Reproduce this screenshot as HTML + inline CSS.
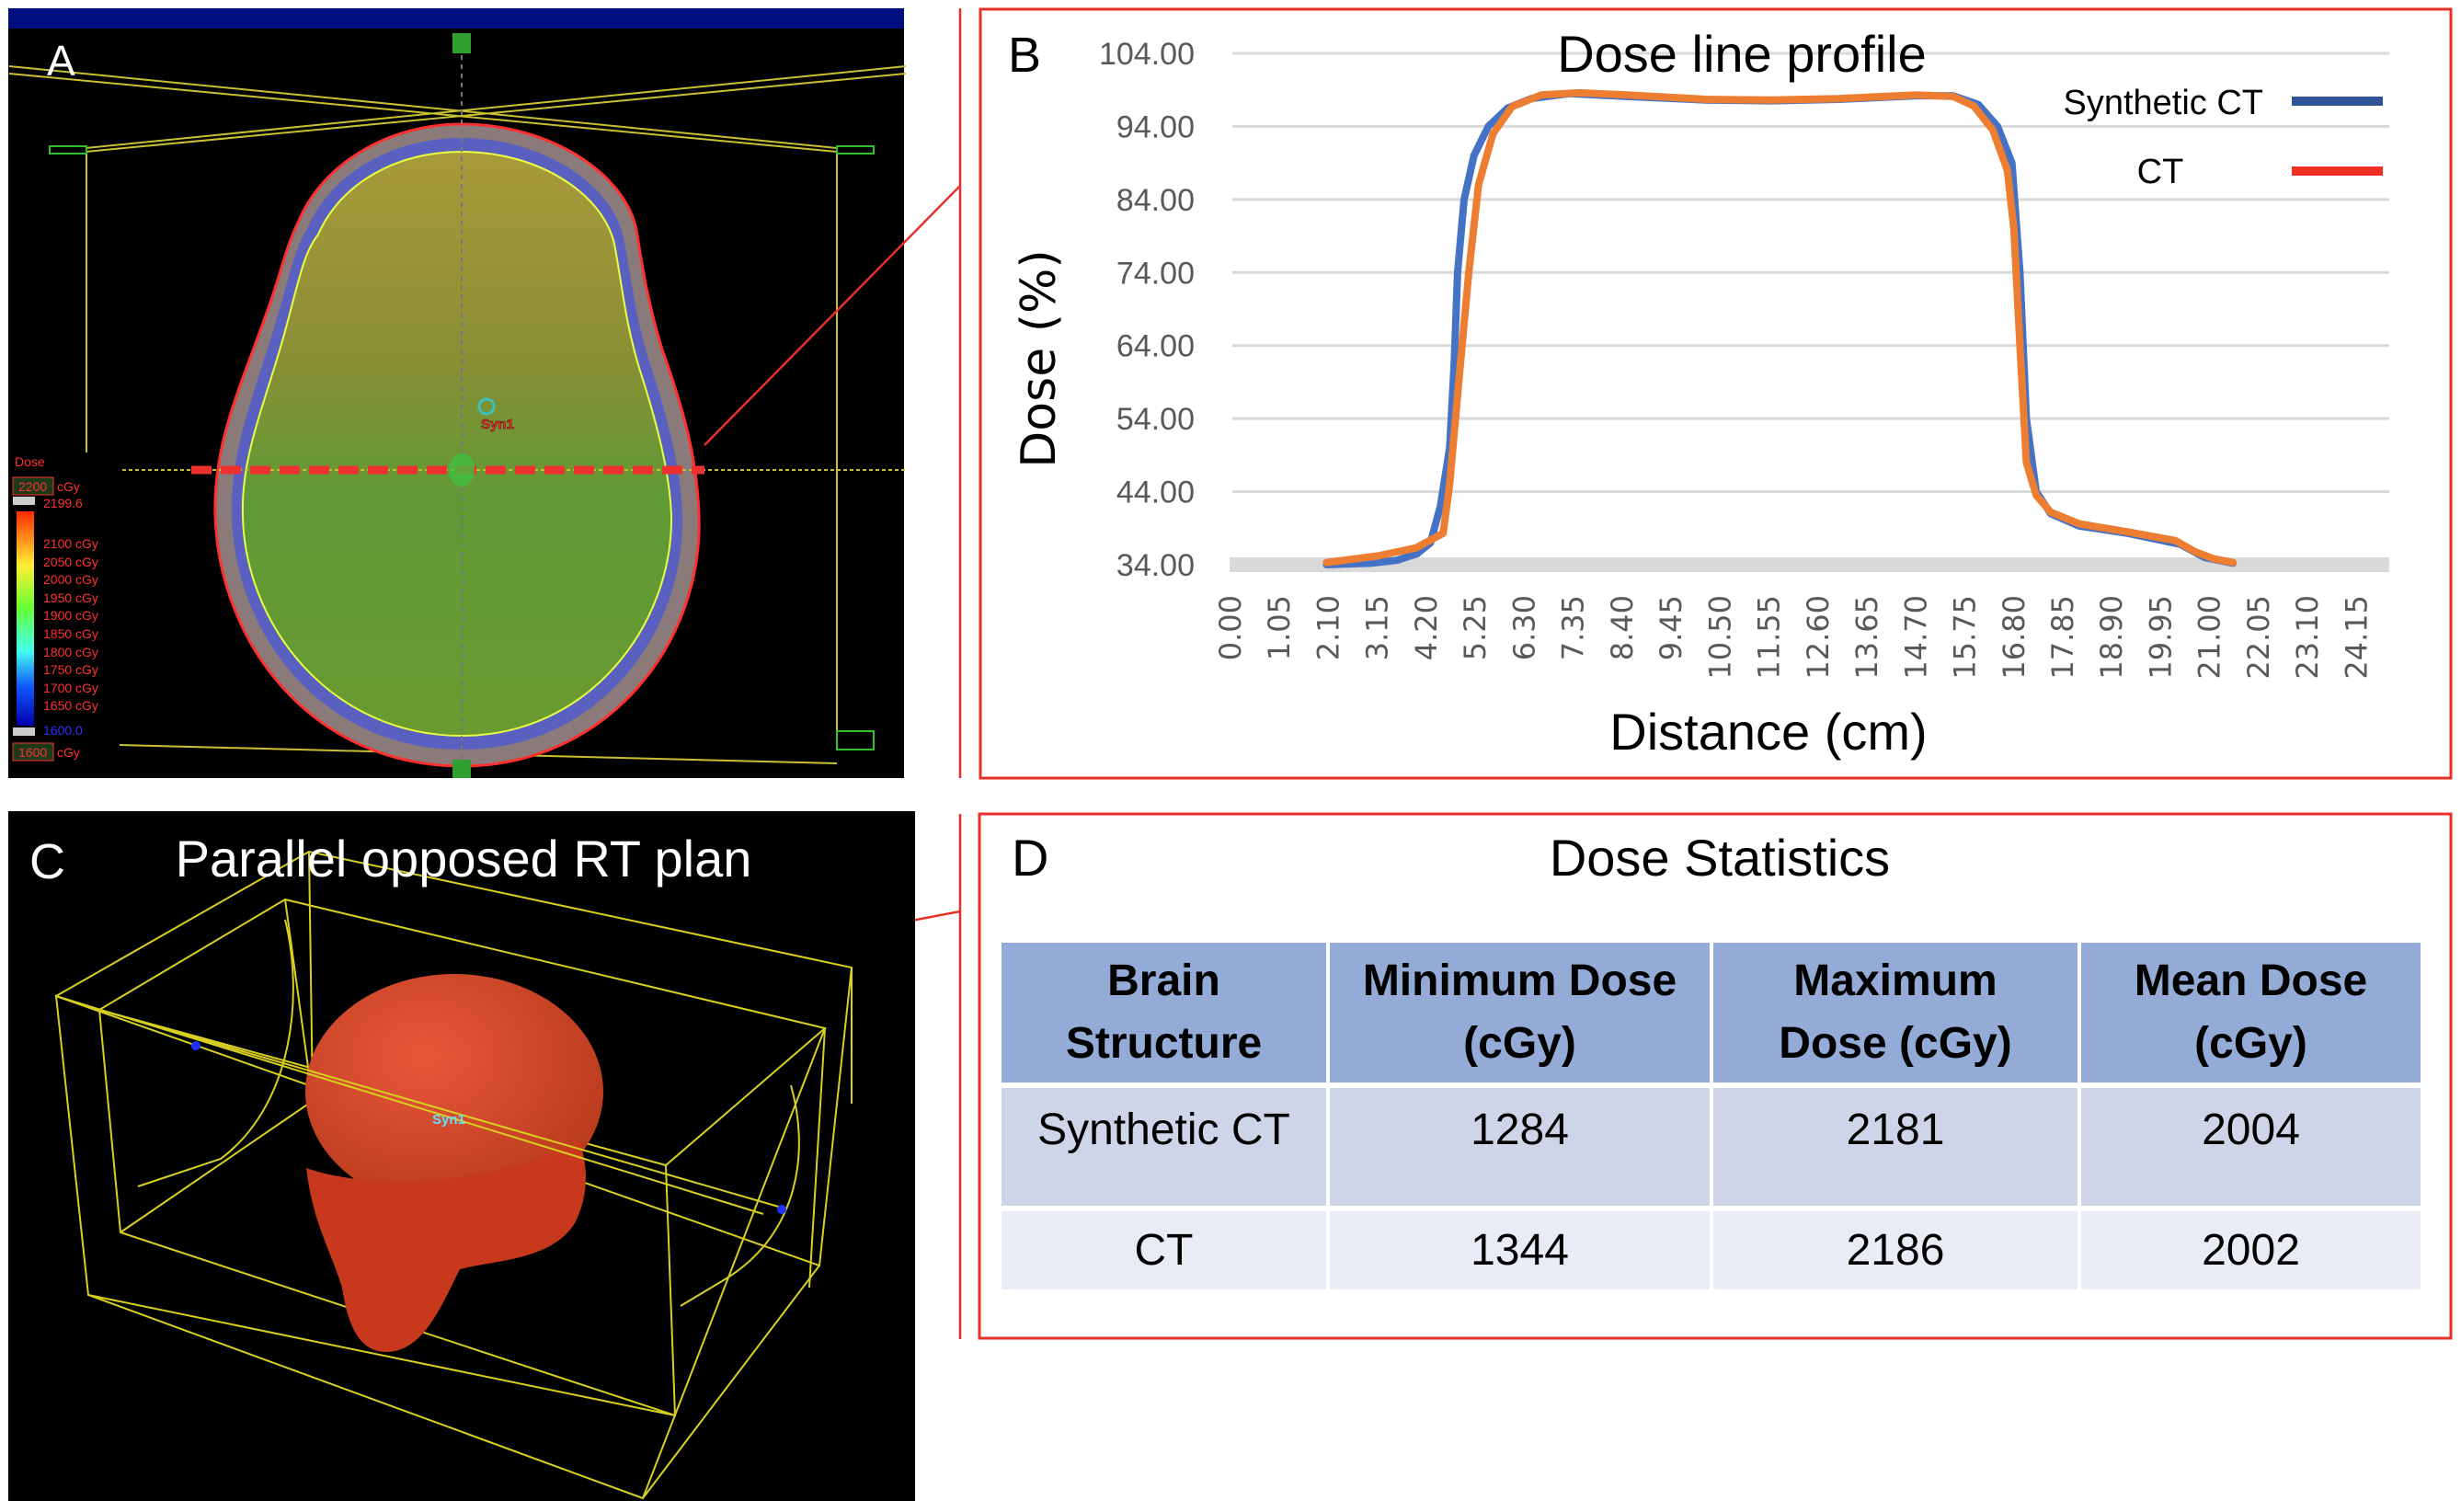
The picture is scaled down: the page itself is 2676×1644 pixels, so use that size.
<!DOCTYPE html>
<html><head><meta charset="utf-8">
<style>
html,body{margin:0;padding:0;background:#fff;}
body{width:2676px;height:1644px;position:relative;overflow:hidden;font-family:"Liberation Sans",sans-serif;}
.abs{position:absolute;}
.narrow{font-family:"Liberation Sans Narrow","Liberation Sans",sans-serif;}
table{border-collapse:separate;border-spacing:4px 6px;}
td{padding:0;}
</style></head>
<body>
<svg class="abs" style="left:0;top:0" width="2676" height="1644">
  <g>
    <defs>
      <linearGradient id="headg" x1="0" y1="0" x2="0" y2="1">
        <stop offset="0" stop-color="#a89a3a"/><stop offset="0.35" stop-color="#8a8f35"/>
        <stop offset="0.6" stop-color="#5f9a35"/><stop offset="1" stop-color="#6a9a30"/>
      </linearGradient>
      <linearGradient id="cbar" x1="0" y1="0" x2="0" y2="1">
        <stop offset="0" stop-color="#ff2a00"/><stop offset="0.25" stop-color="#ffee33"/>
        <stop offset="0.45" stop-color="#66ff33"/><stop offset="0.65" stop-color="#44ffee"/>
        <stop offset="0.82" stop-color="#1155ff"/><stop offset="1" stop-color="#0000aa"/>
      </linearGradient>
      <radialGradient id="skullg" cx="0.4" cy="0.35" r="0.7">
        <stop offset="0" stop-color="#e8573a"/><stop offset="1" stop-color="#b83a1c"/>
      </radialGradient>
    </defs>
    <rect x="9" y="9" width="974" height="837" fill="#000"/>
    <rect x="9" y="9" width="974" height="22" fill="#000f80"/>
    <g stroke="#c8c030" stroke-width="2" fill="none">
      <line x1="10" y1="72" x2="910" y2="161"/>
      <line x1="10" y1="80" x2="910" y2="165"/>
      <line x1="93" y1="161" x2="985" y2="72"/>
      <line x1="93" y1="165" x2="985" y2="80"/>
      <line x1="94" y1="161" x2="94" y2="492"/>
      <line x1="910" y1="161" x2="910" y2="810"/>
      <line x1="130" y1="810" x2="910" y2="830"/>
    </g>
    <g stroke="#2fbf2f" stroke-width="2" fill="none">
      <rect x="54" y="159" width="40" height="8"/><rect x="910" y="159" width="40" height="8"/>
      <rect x="910" y="795" width="40" height="20"/>
    </g>
    <path d="M502,135 C600,135 680,190 692,250 C700,300 705,330 720,380 C745,450 758,500 760,560 C765,700 660,833 502,833 C340,833 238,700 234,560 C232,480 262,420 290,340 C305,300 310,270 325,240 C350,180 420,135 502,135 Z" fill="#8a7a7a" stroke="#ff3030" stroke-width="3"/>
    <path d="M502,150 C590,150 665,200 678,258 C688,310 690,340 705,390 C728,460 740,510 742,560 C745,690 650,815 502,815 C350,815 255,690 252,560 C250,490 276,430 300,350 C315,300 320,270 336,245 C360,190 425,150 502,150 Z" fill="#5a60c0"/>
    <path d="M502,165 C585,165 655,210 668,265 C678,320 680,350 695,400 C716,465 728,515 730,560 C732,680 640,800 502,800 C360,800 266,680 264,560 C262,495 288,440 310,360 C325,305 330,275 346,255 C370,200 430,165 502,165 Z" fill="url(#headg)" stroke="#e8ff40" stroke-width="2"/>
    <line x1="502" y1="40" x2="502" y2="846" stroke="#777" stroke-width="2" stroke-dasharray="5,5"/>
    <line x1="133" y1="511" x2="985" y2="511" stroke="#c8c030" stroke-width="2" stroke-dasharray="4,3"/>
    <rect x="492" y="36" width="20" height="22" fill="#2f9f2f"/><rect x="492" y="826" width="20" height="20" fill="#2f9f2f"/>
    <line x1="208" y1="511" x2="766" y2="511" stroke="#ee3030" stroke-width="9" stroke-dasharray="22,10"/>
    <ellipse cx="502" cy="511" rx="14" ry="18" fill="#40c040" opacity="0.8"/>
    <text x="523" y="466" font-size="15" font-weight="bold" fill="#ff3030" stroke="#300" stroke-width="0.5">Syn1</text>
    <circle cx="529" cy="442" r="8" fill="none" stroke="#40c0c0" stroke-width="3"/>
    <text x="51" y="82" font-size="46" fill="#fff">A</text>
    <g font-size="14" fill="#ff3030">
      <text x="16" y="507">Dose</text>
      <rect x="14" y="519" width="44" height="19" fill="#1a3a1a" stroke="#ff3030"/>
      <text x="20" y="534">2200</text><text x="62" y="534">cGy</text>
      <rect x="14" y="540" width="24" height="9" fill="#ccc"/>
      <text x="47" y="552">2199.6</text>
      <rect x="18" y="556" width="19" height="233" fill="url(#cbar)"/>
      <text x="47" y="596">2100 cGy</text><text x="47" y="616">2050 cGy</text><text x="47" y="635">2000 cGy</text>
      <text x="47" y="655">1950 cGy</text><text x="47" y="674">1900 cGy</text><text x="47" y="694">1850 cGy</text>
      <text x="47" y="714">1800 cGy</text><text x="47" y="733">1750 cGy</text><text x="47" y="753">1700 cGy</text>
      <text x="47" y="772">1650 cGy</text>
      <rect x="14" y="791" width="24" height="9" fill="#ccc"/>
      <text x="47" y="799" fill="#3030ff">1600.0</text>
      <rect x="14" y="808" width="44" height="19" fill="#1a3a1a" stroke="#ff3030"/>
      <text x="20" y="823">1600</text><text x="62" y="823">cGy</text>
    </g>
  </g>
  <g stroke="#e8302a" stroke-width="2.5">
    <line x1="1044" y1="9" x2="1044" y2="846"/>
    <line x1="1044" y1="885" x2="1044" y2="1456"/>
    <line x1="766" y1="484" x2="1044" y2="202"/>
    <line x1="636" y1="1068" x2="1044" y2="991"/>
  </g>
  <rect x="1066" y="10" width="1599" height="836" fill="none" stroke="#e8302a" stroke-width="3"/>
  <rect x="1065" y="885" width="1600" height="570" fill="none" stroke="#e8302a" stroke-width="3"/>
  <g>
    <rect x="9" y="882" width="986" height="750" fill="#000"/>
    <g stroke="#d8d020" stroke-width="2" fill="none">
      <polyline points="61,1083 336,926 926,1052 891,1376 61,1083 96,1408 699,1629 891,1376"/>
      <line x1="926" y1="1052" x2="926" y2="1200"/>
      <line x1="96" y1="1408" x2="734" y2="1539"/>
      <polyline points="108,1098 310,978 897,1118 724,1267 108,1098 131,1340 734,1539 724,1267"/>
      <line x1="336" y1="926" x2="340" y2="1197"/>
      <line x1="310" y1="978" x2="340" y2="1197"/>
      <line x1="897" y1="1118" x2="880" y2="1400"/>
      <line x1="131" y1="1340" x2="340" y2="1197"/>
      <line x1="699" y1="1629" x2="897" y2="1118"/>
      <path d="M310,1000 C330,1080 320,1200 240,1260 L150,1290"/>
      <path d="M860,1180 C880,1250 870,1340 790,1390 L740,1420"/>
    </g>
    <ellipse cx="494" cy="1187" rx="162" ry="128" fill="url(#skullg)"/>
    <path d="M333,1270 C340,1330 360,1360 372,1400 C378,1440 390,1470 420,1470 C460,1470 480,1420 500,1380 C540,1370 600,1370 625,1330 C640,1300 640,1270 630,1240 C560,1280 420,1300 333,1270 Z" fill="#c8381c"/>
    <line x1="61" y1="1083" x2="830" y2="1320" stroke="#d8d020" stroke-width="2"/>
    <line x1="108" y1="1098" x2="850" y2="1313" stroke="#d8d020" stroke-width="2"/>
    <circle cx="213" cy="1137" r="5" fill="#2030ff"/><circle cx="850" cy="1315" r="5" fill="#2030ff"/>
    <text x="470" y="1222" font-size="15" font-weight="bold" fill="#60e0ff">Syn1</text>
    <text x="32" y="955" font-size="54" fill="#fff" class="narrow">C</text>
    <text x="504" y="953" font-size="56" fill="#fff" text-anchor="middle" class="narrow">Parallel opposed RT plan</text>
  </g>
  <g id="chart"></g>
</svg>

<div class="abs narrow" style="left:1100px;top:900px;font-size:56px;">D</div>
<div class="abs narrow" style="left:1570px;top:900px;width:600px;text-align:center;font-size:56px;">Dose Statistics</div>
<table class="abs narrow" style="left:1085px;top:1019px;font-size:48px;text-align:center;">
  <tr style="font-weight:bold;height:152px;line-height:68px;">
    <td style="width:353px;background:#94abd8">Brain<br>Structure</td>
    <td style="width:413px;background:#94abd8">Minimum Dose<br>(cGy)</td>
    <td style="width:396px;background:#94abd8">Maximum<br>Dose (cGy)</td>
    <td style="width:369px;background:#94abd8">Mean Dose<br>(cGy)</td>
  </tr>
  <tr style="height:128px;vertical-align:top;">
    <td style="background:#cfd5e9;padding-top:18px">Synthetic CT</td><td style="background:#cfd5e9;padding-top:18px">1284</td><td style="background:#cfd5e9;padding-top:18px">2181</td><td style="background:#cfd5e9;padding-top:18px">2004</td>
  </tr>
  <tr style="height:85px;">
    <td style="background:#e9ebf5">CT</td><td style="background:#e9ebf5">1344</td><td style="background:#e9ebf5">2186</td><td style="background:#e9ebf5">2002</td>
  </tr>
</table>

<script>
const yTicks = [34, 44, 54, 64, 74, 84, 94, 104];
const xTickLabels = ["0.00","1.05","2.10","3.15","4.20","5.25","6.30","7.35","8.40","9.45","10.50","11.55","12.60","13.65","14.70","15.75","16.80","17.85","18.90","19.95","21.00","22.05","23.10","24.15"];
const synDist = [2.06,3.0,3.57,4.0,4.29,4.5,4.7,4.8,4.87,5.01,5.22,5.53,5.94,6.45,7.28,8.5,10.2,11.6,13.05,14.7,15.5,16.04,16.45,16.76,16.93,17.07,17.28,17.59,18.2,19.24,20.37,20.89,21.5];
const synDose = [34,34.2,34.6,35.5,37,42,50,62,74,84,90,94,96.5,97.8,98.5,98.1,97.6,97.5,97.7,98.2,98.2,97,94,89,74,54,44,41,39.3,38.3,36.8,35,34.2];
const ctDist = [2.06,3.15,3.98,4.56,4.7,4.91,5.11,5.32,5.63,6.04,6.66,7.48,8.5,10.2,11.6,13.05,14.7,15.5,15.94,16.35,16.66,16.8,16.93,17.07,17.28,17.59,18.2,19.24,20.27,20.68,21.09,21.5];
const ctDose = [34.3,35.2,36.3,38.3,45,60,74,86,93,96.7,98.3,98.6,98.3,97.7,97.6,97.8,98.3,98.1,96.8,93.5,88,80,64,48,43.5,41.2,39.6,38.5,37.3,35.8,34.8,34.3];

const NS = "http://www.w3.org/2000/svg";
const g = document.getElementById('chart');
const X0 = 1338, PXCM = 50.7, XR = 2598;
const yS = v => 614 - (v - 34) * 7.943;
const xS = d => X0 + d * PXCM;
function mk(tag, attrs, text) {
  const e = document.createElementNS(NS, tag);
  for (const k in attrs) e.setAttribute(k, attrs[k]);
  if (text !== undefined) e.textContent = text;
  g.appendChild(e);
  return e;
}
yTicks.forEach((v, i) => {
  if (i > 0) {
    const gl = mk('line', {x1: 1340, x2: XR, y1: yS(v), y2: yS(v), stroke: '#d9d9d9', 'stroke-width': 3});
    
    
  }
  const t = mk('text', {x: 1299, y: yS(v) + 12, 'text-anchor': 'end', 'font-size': 34, fill: '#595959', 'font-family': '"Liberation Sans Narrow","Liberation Sans",sans-serif'}, v.toFixed(2));
  
  
});
const band = mk('rect', {x: 1337, y: 606, width: XR - 1337, height: 16, fill: '#d9d9d9'});


xTickLabels.forEach(l => {
  const x = xS(parseFloat(l)) + 11;
  const t = mk('text', {x: x, y: 647, transform: `rotate(-90 ${x} 647)`, 'text-anchor': 'end', 'font-size': 32, fill: '#595959', 'font-family': '"DejaVu Sans",sans-serif'}, l);
  
  
});
function series(dist, dose, color, name) {
  const pts = dist.map((d, i) => xS(d).toFixed(1) + ',' + yS(dose[i]).toFixed(1)).join(' ');
  const p = mk('polyline', {points: pts, fill: 'none', stroke: color, 'stroke-width': 8, 'stroke-linejoin': 'round', 'stroke-linecap': 'round'});
  
  
}
series(synDist, synDose, '#4472c4', 'series-synthetic-ct');
series(ctDist, ctDose, '#ed7d31', 'series-ct');
const ff = '"Liberation Sans Narrow","Liberation Sans",sans-serif';
let t;
t = mk('text', {x: 1894, y: 78, 'text-anchor': 'middle', 'font-size': 56, fill: '#000', 'font-family': ff}, 'Dose line profile');


t = mk('text', {x: 1096, y: 78, 'font-size': 54, fill: '#000', 'font-family': ff}, 'B');


t = mk('text', {x: 1147, y: 390, transform: 'rotate(-90 1147 390)', 'text-anchor': 'middle', 'font-size': 52, fill: '#000', 'font-family': '"DejaVu Sans",sans-serif'}, 'Dose (%)');


t = mk('text', {x: 1923, y: 815, 'text-anchor': 'middle', 'font-size': 56, fill: '#000', 'font-family': ff}, 'Distance (cm)');


t = mk('text', {x: 2461, y: 124, 'text-anchor': 'end', 'font-size': 38, fill: '#000', 'font-family': ff}, 'Synthetic CT');


t = mk('rect', {x: 2492, y: 105, width: 99, height: 10, fill: '#2f5597'});


t = mk('text', {x: 2349, y: 199, 'text-anchor': 'middle', 'font-size': 38, fill: '#000', 'font-family': ff}, 'CT');


t = mk('rect', {x: 2492, y: 181, width: 99, height: 10, fill: '#ee3024'});


</script>
</body></html>
